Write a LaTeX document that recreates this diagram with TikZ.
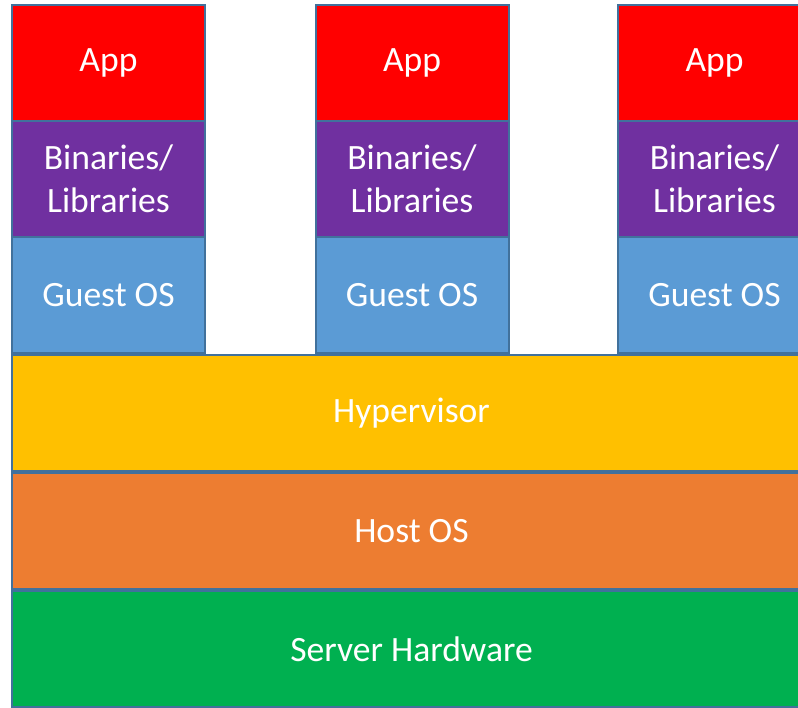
\documentclass[tikz,border=0pt]{standalone}
\usepackage{fontspec}
\setmainfont{Carlito}
\usepackage{tikz}
\usetikzlibrary{positioning}
\usepackage{xcolor}

\definecolor{appred}{HTML}{FF0000}
\definecolor{libpurple}{HTML}{7030A0}
\definecolor{guestblue}{HTML}{5B9BD5}
\definecolor{hypyellow}{HTML}{FFC000}
\definecolor{hostorange}{HTML}{ED7D31}
\definecolor{hwgreen}{HTML}{00B050}
\definecolor{edgeblue}{HTML}{41719C}

\begin{document}
\begin{tikzpicture}[x=1pt,y=1pt,node distance=0pt]
  \tikzstyle{layer}=[draw=edgeblue,line width=2pt,text=white,minimum height=116pt,
    inner sep=0pt,outer sep=0pt,align=center,font=\fontsize{35.6}{43}\selectfont]
  \tikzstyle{column}=[layer,minimum width=193pt]
  \tikzstyle{bar}=[layer,minimum width=799pt,anchor=west]

  \useasboundingbox (0,0) rectangle (798,707);
  \clip (0,0) rectangle (798,707);

  \node[column,fill=appred]    (app_1) at (108.5,644) {App};
  \node[column,fill=libpurple] (lib_1) [below=of app_1] {Binaries/\\Libraries};
  \node[column,fill=guestblue] (os_1)  [below=of lib_1] {Guest OS};

  \node[column,fill=appred]    (app_2) at (412,644) {App};
  \node[column,fill=libpurple] (lib_2) [below=of app_2] {Binaries/\\Libraries};
  \node[column,fill=guestblue] (os_2)  [below=of lib_2] {Guest OS};

  \node[column,fill=appred]    (app_3) at (714.5,644) {App};
  \node[column,fill=libpurple] (lib_3) [below=of app_3] {Binaries/\\Libraries};
  \node[column,fill=guestblue] (os_3)  [below=of lib_3] {Guest OS};

  \node[bar,fill=hypyellow]  (hyper) at (12,294) {Hypervisor};
  \node[bar,fill=hostorange] (host)  [below=2pt of hyper.south west,anchor=north west] {Host OS};
  \node[bar,fill=hwgreen]    (hw)    [below=2pt of host.south west,anchor=north west] {Server Hardware};
\end{tikzpicture}
\end{document}
